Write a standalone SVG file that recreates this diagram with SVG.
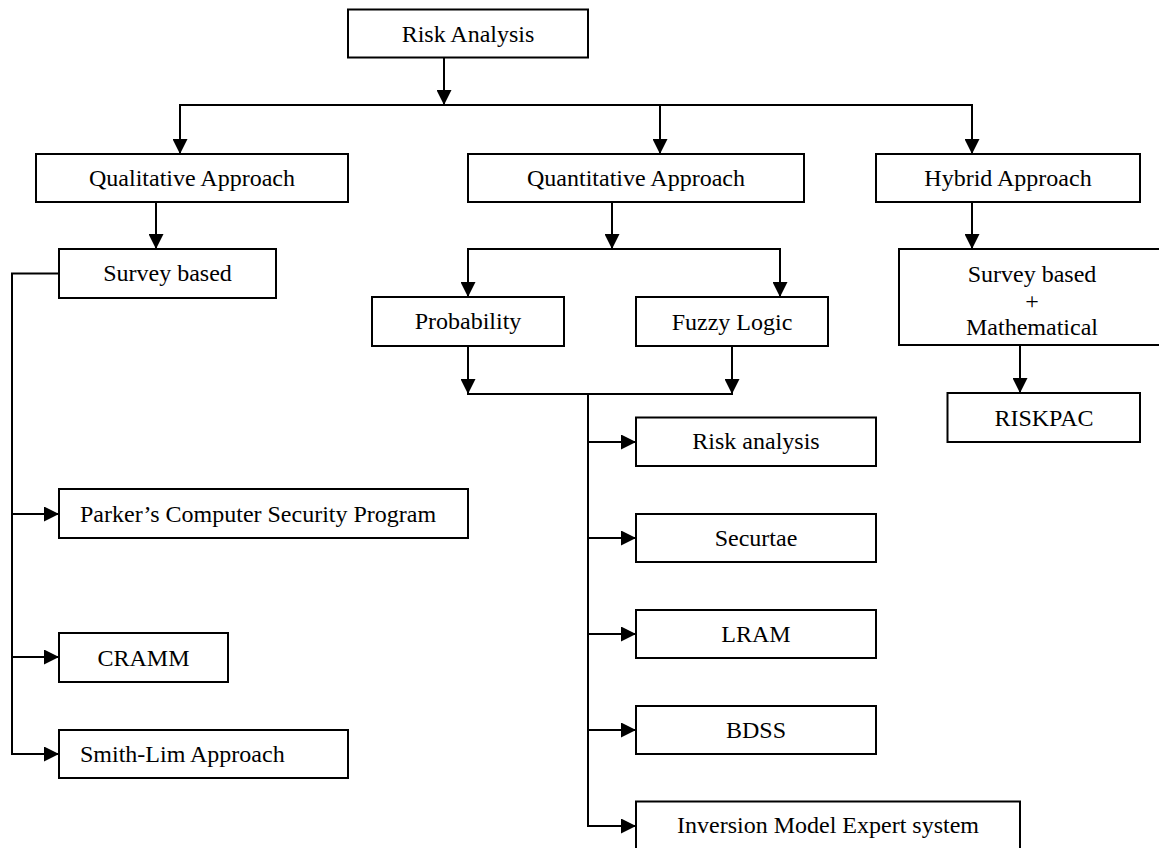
<svg xmlns="http://www.w3.org/2000/svg" width="1159" height="848" viewBox="0 0 1159 848">
<style>
.box{fill:#fff;stroke:#000;stroke-width:2}
.t{font-family:"Liberation Serif","Times New Roman",serif;font-size:24px;fill:#000}
.c{text-anchor:middle}
.ln{fill:none;stroke:#000;stroke-width:2}
</style>
<defs>
<marker id="ah" markerUnits="userSpaceOnUse" markerWidth="15" markerHeight="15" refX="15" refY="7.5" orient="auto">
<path d="M0,0 L15,7.5 L0,15 z" fill="#000"/>
</marker>
</defs>
<rect width="1159" height="848" fill="#fff"/>
<g id="connectors">
<line class="ln" x1="444" y1="57.5" x2="444" y2="105" marker-end="url(#ah)"/>
<line class="ln" x1="179" y1="105" x2="973" y2="105"/>
<line class="ln" x1="180" y1="105" x2="180" y2="154" marker-end="url(#ah)"/>
<line class="ln" x1="660" y1="105" x2="660" y2="154" marker-end="url(#ah)"/>
<line class="ln" x1="972" y1="105" x2="972" y2="154" marker-end="url(#ah)"/>
<line class="ln" x1="156" y1="202" x2="156" y2="249" marker-end="url(#ah)"/>
<path class="ln" d="M59,273.5 H12 V754"/>
<line class="ln" x1="11" y1="514" x2="59" y2="514" marker-end="url(#ah)"/>
<line class="ln" x1="11" y1="657" x2="59" y2="657" marker-end="url(#ah)"/>
<line class="ln" x1="11" y1="754" x2="59" y2="754" marker-end="url(#ah)"/>
<line class="ln" x1="612" y1="202" x2="612" y2="249" marker-end="url(#ah)"/>
<line class="ln" x1="467" y1="249" x2="781" y2="249"/>
<line class="ln" x1="468" y1="249" x2="468" y2="297" marker-end="url(#ah)"/>
<line class="ln" x1="780" y1="249" x2="780" y2="297" marker-end="url(#ah)"/>
<line class="ln" x1="972" y1="202" x2="972" y2="249" marker-end="url(#ah)"/>
<line class="ln" x1="468" y1="346" x2="468" y2="394" marker-end="url(#ah)"/>
<line class="ln" x1="732" y1="346" x2="732" y2="394" marker-end="url(#ah)"/>
<line class="ln" x1="467" y1="394" x2="733" y2="394"/>
<line class="ln" x1="588" y1="394" x2="588" y2="826"/>
<line class="ln" x1="587" y1="442" x2="636" y2="442" marker-end="url(#ah)"/>
<line class="ln" x1="587" y1="538" x2="636" y2="538" marker-end="url(#ah)"/>
<line class="ln" x1="587" y1="634" x2="636" y2="634" marker-end="url(#ah)"/>
<line class="ln" x1="587" y1="730" x2="636" y2="730" marker-end="url(#ah)"/>
<line class="ln" x1="587" y1="826" x2="636" y2="826" marker-end="url(#ah)"/>
<line class="ln" x1="1020" y1="345" x2="1020" y2="393" marker-end="url(#ah)"/>
</g>
<g id="risk-analysis"><rect class="box" x="348" y="9.5" width="240" height="48"/><text class="t c" x="468" y="42">Risk Analysis</text></g>
<g id="qualitative"><rect class="box" x="36" y="154" width="312" height="48"/><text class="t c" x="192" y="186">Qualitative Approach</text></g>
<g id="quantitative"><rect class="box" x="468" y="154" width="336" height="48"/><text class="t c" x="636" y="186">Quantitative Approach</text></g>
<g id="hybrid"><rect class="box" x="876" y="154" width="264" height="48"/><text class="t c" x="1008" y="186">Hybrid Approach</text></g>
<g id="survey-based"><rect class="box" x="59" y="249" width="217" height="49"/><text class="t c" x="167.5" y="281">Survey based</text></g>
<g id="probability"><rect class="box" x="372" y="297" width="192" height="49"/><text class="t c" x="468" y="329">Probability</text></g>
<g id="fuzzy-logic"><rect class="box" x="636" y="297" width="192" height="49"/><text class="t c" x="732" y="330">Fuzzy Logic</text></g>
<g id="survey-math"><rect class="box" x="899" y="249" width="264" height="96"/><text class="t c" x="1032" y="281.5">Survey based</text><text class="t c" x="1032" y="309">+</text><text class="t c" x="1032" y="335">Mathematical</text></g>
<g id="riskpac"><rect class="box" x="947.5" y="393" width="192.5" height="49"/><text class="t c" x="1044" y="426">RISKPAC</text></g>
<g id="risk-analysis-tool"><rect class="box" x="636" y="417.5" width="240" height="48.5"/><text class="t c" x="756" y="449">Risk analysis</text></g>
<g id="securtae"><rect class="box" x="636" y="514" width="240" height="48"/><text class="t c" x="756" y="546">Securtae</text></g>
<g id="lram"><rect class="box" x="636" y="610" width="240" height="48"/><text class="t c" x="756" y="642">LRAM</text></g>
<g id="bdss"><rect class="box" x="636" y="706" width="240" height="48"/><text class="t c" x="756" y="738">BDSS</text></g>
<g id="inversion"><rect class="box" x="636" y="801.5" width="384" height="48"/><text class="t c" x="828" y="833">Inversion Model Expert system</text></g>
<g id="parker"><rect class="box" x="59" y="489" width="409" height="49"/><text class="t" x="80" y="522">Parker’s Computer Security Program</text></g>
<g id="cramm"><rect class="box" x="59" y="633" width="169" height="49"/><text class="t c" x="143.5" y="665.5">CRAMM</text></g>
<g id="smith-lim"><rect class="box" x="59" y="730" width="289" height="48"/><text class="t" x="80" y="762">Smith-Lim Approach</text></g>
</svg>
